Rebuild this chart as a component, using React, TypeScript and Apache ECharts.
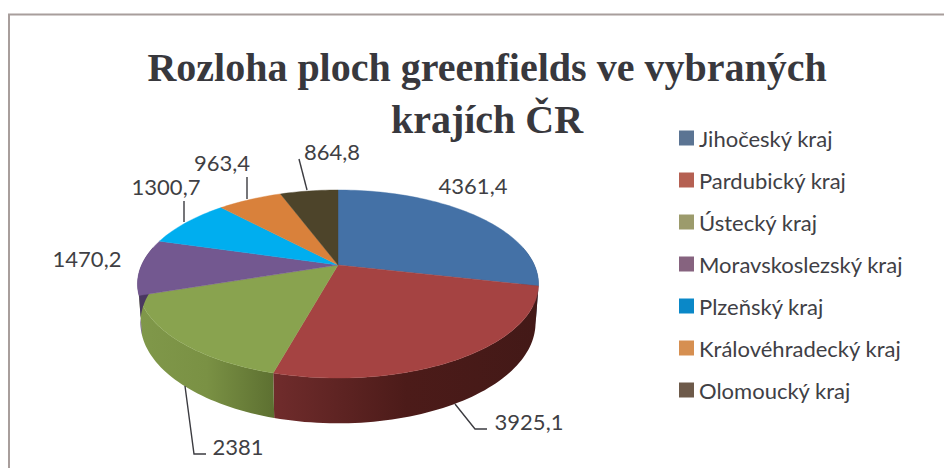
import React, { useEffect, useRef } from "react";
import * as echarts from "echarts";

const regions = ["Jihočeský kraj", "Pardubický kraj", "Ústecký kraj", "Moravskoslezský kraj", "Plzeňský kraj", "Královéhradecký kraj", "Olomoucký kraj"];
const areas = [4361.4, 3925.1, 2381, 1470.2, 1300.7, 963.4, 864.8];
const titleText = "Rozloha ploch greenfields ve vybraných\nkrajích ČR";

const topColors = ["#4471a6", "#a54342", "#89a34f", "#735890", "#00aeef", "#d9813b", "#4d442a"];
const legendColors = ["#5b7493", "#b56052", "#9c9b6c", "#86637f", "#0a88c8", "#d68f51", "#6d5a4a"];
const wallStops: string[][] = [
  ["#2b4668", "#2b4668"],
  ["#702c2c", "#4c1b19", "#431917"],
  ["#80984a", "#7a9144", "#5d7031"],
  ["#4a3860", "#4a3860"],
  ["#0080b0", "#0080b0"],
  ["#99592a", "#99592a"],
  ["#332c1b", "#332c1b"],
];
const labelSpots = [
  { x: 473, y: 185, leader: [] as number[][] },
  { x: 529, y: 421, leader: [[455, 404], [475, 429], [487, 429]] },
  { x: 238, y: 446, leader: [[185, 386], [194, 454], [206, 454]] },
  { x: 87, y: 258, leader: [] as number[][] },
  { x: 166, y: 186, leader: [[184, 201], [184, 222]] },
  { x: 222, y: 162, leader: [[247, 177], [247, 199]] },
  { x: 332, y: 151, leader: [[299, 159], [307, 190]] },
];

// Perspective model of the tilted disc, expressed around the apex of the pie.
const apexX = 338, apexY = 265, radiusX = 196.4, radiusY = 90.2, tilt = 0.202, depth = 37.5, shrink = 0.985;
const total = areas.reduce((a, b) => a + b, 0);

function rim(deg: number, lower: boolean): number[] {
  const t = (deg * Math.PI) / 180;
  const u = Math.sin(t), v = -Math.cos(t);
  const w = 1 - tilt * v;
  const s = lower ? shrink : 1;
  return [apexX + (radiusX * u * s) / w, apexY + (radiusY * v * s + (lower ? depth : 0)) / w];
}

function arcPoints(a: number, b: number, lower: boolean): number[][] {
  const pts: number[][] = [];
  const n = Math.max(2, Math.ceil(Math.abs(b - a) / 1.5));
  for (let i = 0; i <= n; i++) pts.push(rim(a + ((b - a) * i) / n, lower));
  return pts;
}

function sliceSeries(index: number) {
  return {
    type: "custom",
    name: regions[index],
    coordinateSystem: "none",
    silent: true,
    data: [[areas[index]]],
    renderItem: (_: unknown, api: any) => {
      const value = api.value(0) as number;
      const before = areas.slice(0, index).reduce((a, b) => a + b, 0);
      const a0 = (before / total) * 360;
      const a1 = a0 + (value / total) * 360;
      const children: any[] = [];
      const w0 = Math.max(a0, 78.4), w1 = Math.min(a1, 281.6);
      if (w1 > w0) {
        const stops = wallStops[index];
        const wall = [...arcPoints(w0, w1, false), ...arcPoints(w1, w0, true)];
        children.push({
          type: "polygon",
          shape: { points: wall },
          style: {
            fill: new echarts.graphic.LinearGradient(0, 0, 1, 0,
              stops.map((color, i) => ({ offset: i / (stops.length - 1), color }))),
          },
        });
      }
      children.push({
        type: "polygon",
        shape: { points: [[apexX, apexY], ...arcPoints(a0, a1, false)] },
        style: { fill: topColors[index], stroke: topColors[index], lineWidth: 0.4 },
      });
      const spot = labelSpots[index];
      if (spot.leader.length) {
        children.push({
          type: "polyline",
          shape: { points: spot.leader },
          style: { fill: "none", stroke: "#3b3b40", lineWidth: 1.4 },
        });
      }
      children.push({
        type: "text",
        style: {
          text: String(value).replace(".", ","),
          x: spot.x,
          y: spot.y,
          fill: "#3f3f44",
          font: "22px Lato",
          align: "center",
          verticalAlign: "middle",
        },
      });
      return { type: "group", children };
    },
  };
}

export default function App() {
  const ref = useRef<HTMLDivElement>(null);
  useEffect(() => {
    document.body.style.margin = "0";
    const chart = echarts.init(ref.current!, undefined, { renderer: "svg" });
    chart.setOption({
      animation: false,
      backgroundColor: "#ffffff",
      title: {
        text: titleText,
        left: 482,
        top: 36,
        textAlign: "center",
        textStyle: {
          fontFamily: "Liberation Serif",
          fontWeight: "bold",
          fontSize: 40,
          lineHeight: 52,
          color: "#38383d",
        },
      },
      legend: {
        orient: "vertical",
        left: 674,
        top: 122,
        itemWidth: 15,
        itemHeight: 15,
        itemGap: 20,
        icon: "rect",
        itemStyle: { borderWidth: 0 },
        textStyle: { fontFamily: "Lato", fontSize: 22, color: "#404045", padding: [0, 0, 0, 0] },
        data: regions.map((name, i) => ({ name, itemStyle: { color: legendColors[i] } })),
      },
      graphic: [
        { type: "polyline", silent: true, shape: { points: [[9, 468], [9, 14.5], [944, 14.5]] }, style: { fill: "none", stroke: "#a89e9c", lineWidth: 2 } },
      ],
      series: regions.map((_, i) => sliceSeries(i)),
    });
    return () => chart.dispose();
  }, []);
  return <div ref={ref} style={{ width: 944, height: 468 }} />;
}
